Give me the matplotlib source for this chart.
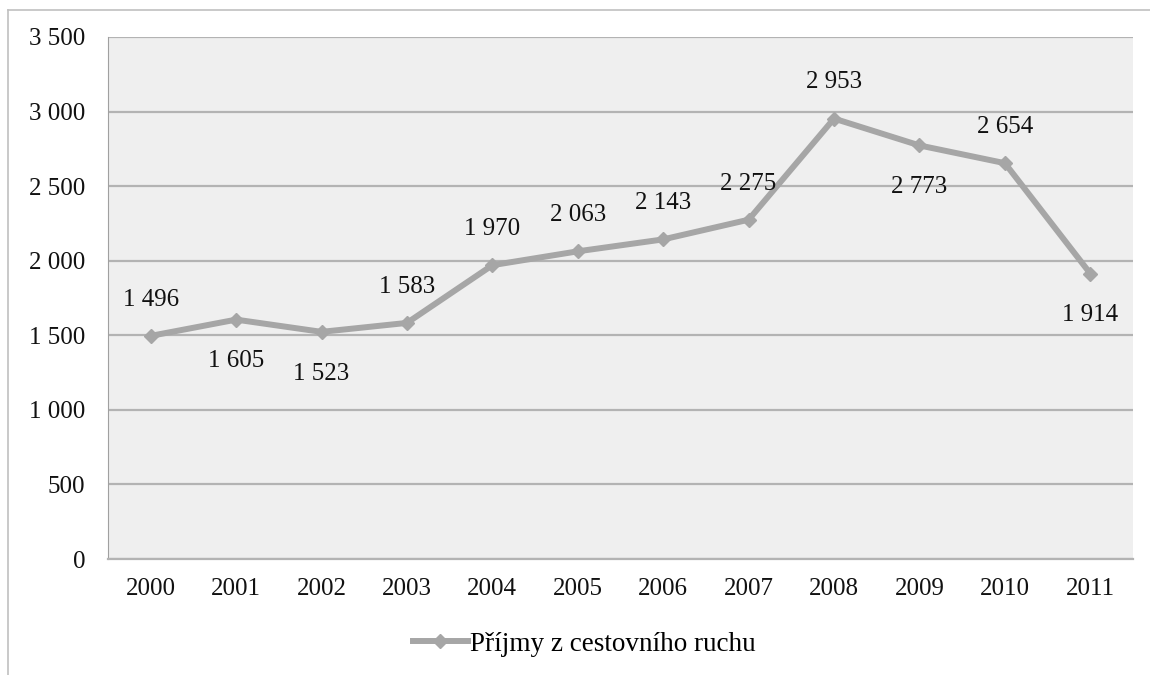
import matplotlib.pyplot as plt
from matplotlib.lines import Line2D

years = ["2000", "2001", "2002", "2003", "2004", "2005", "2006",
         "2007", "2008", "2009", "2010", "2011"]
values = [1496, 1605, 1523, 1583, 1970, 2063, 2143, 2275, 2953, 2773, 2654, 1914]
label_above = [True, False, False, True, True, True, True, True, True, False, True, False]
yticks = [0, 500, 1000, 1500, 2000, 2500, 3000, 3500]


def fmt(v):
    return f"{v:,}".replace(",", " ")


plt.rcParams['font.family'] = ['Liberation Serif', 'DejaVu Serif']

fig = plt.figure(figsize=(11.5, 6.75), dpi=100)
# outer chart border (only top and left edges visible in the reference)
fig.lines.append(Line2D([8 / 1150, 1], [1 - 10 / 675, 1 - 10 / 675], transform=fig.transFigure,
                        color="#c0c0c0", linewidth=1.2))
fig.lines.append(Line2D([8 / 1150, 8 / 1150], [0, 1 - 10 / 675], transform=fig.transFigure,
                        color="#c0c0c0", linewidth=1.2))

ax = fig.add_axes([108 / 1150, 1 - 559 / 675, (1133 - 108) / 1150, (559 - 37) / 675])
ax.set_facecolor("#efefef")

x = list(range(len(years)))
ax.plot(x, values, color="#a6a6a6", linewidth=4.3, marker="D", markersize=7,
        label="Příjmy z cestovního ruchu", zorder=3)

for xi, v, up in zip(x, values, label_above):
    ax.annotate(fmt(v), (xi, v), xytext=(0, 26 if up else -30), textcoords="offset points",
                ha="center", va="center", fontsize=18, color="#111111")

ax.set_xlim(-0.5, len(years) - 0.5)
ax.set_ylim(0, 3500)
ax.set_yticks(yticks)
ax.set_yticklabels([fmt(t) for t in yticks])
ax.set_xticks(x)
ax.set_xticklabels(years)
ax.tick_params(axis="both", length=0, labelsize=18, colors="#111111")
ax.tick_params(axis="y", pad=16.5)
ax.tick_params(axis="x", pad=14)
ax.grid(axis="y", color="#b3b3b3", linewidth=1.6)
ax.set_axisbelow(True)
for s in ["top", "right"]:
    ax.spines[s].set_visible(False)
ax.spines["left"].set_color("#a0a0a0")
ax.spines["bottom"].set_color("#b3b3b3")
ax.spines["bottom"].set_linewidth(1.6)

ax.legend(loc="center", bbox_to_anchor=(0.465, -0.163), frameon=False, fontsize=19.5,
          handlelength=2.0, handletextpad=0.1)

fig.savefig("out.png", dpi=100)
